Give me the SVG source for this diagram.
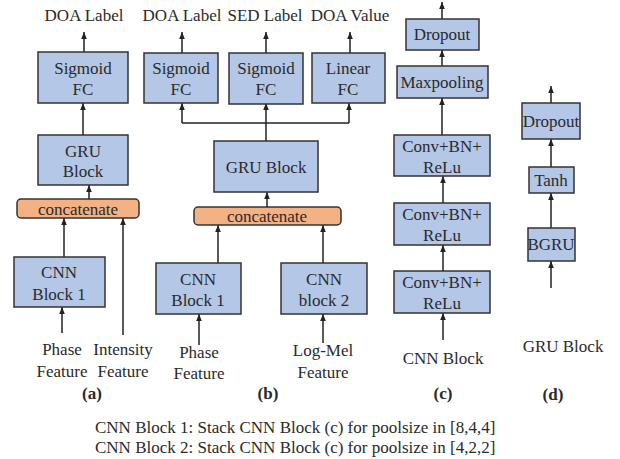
<svg xmlns="http://www.w3.org/2000/svg" width="620" height="459" viewBox="0 0 620 459">
<defs>
<marker id="ah" viewBox="0 0 10 10" refX="10" refY="5" markerWidth="7" markerHeight="7" orient="auto" markerUnits="userSpaceOnUse"><path d="M0,1 L10,5 L0,9 z" fill="#222"/></marker>
<style>
text{font-family:"Liberation Serif","Times New Roman",serif;font-size:17px;fill:#2a2a2a;text-anchor:middle}
.b{fill:#b4c7e7;stroke:#333;stroke-width:1.5}
.c{fill:#f4b183;stroke:#333;stroke-width:1.5}
.bold{font-weight:bold}
.l{text-anchor:start}
.e line,.e path{stroke:#222;stroke-width:1.5;fill:none}
.a{marker-end:url(#ah)}
</style>
</defs>
<rect width="620" height="459" fill="#fff"/>

<g class="e" id="connectors">
<!-- (a) -->
<line class="a" x1="84" y1="52" x2="84" y2="32"/>
<line class="a" x1="83" y1="135" x2="83" y2="103"/>
<line class="a" x1="89" y1="199" x2="89" y2="185"/>
<line class="a" x1="64" y1="257" x2="64" y2="218"/>
<line class="a" x1="123" y1="335" x2="123" y2="218"/>
<line class="a" x1="62" y1="333" x2="62" y2="307"/>
<!-- (b) -->
<line class="a" x1="182" y1="53" x2="182" y2="32"/>
<line class="a" x1="266" y1="53" x2="266" y2="32"/>
<line class="a" x1="350" y1="53" x2="350" y2="32"/>
<line class="a" x1="266" y1="141" x2="266" y2="103"/>
<line x1="182" y1="123" x2="349" y2="123"/>
<line class="a" x1="182" y1="123" x2="182" y2="103"/>
<line class="a" x1="349" y1="123" x2="349" y2="103"/>
<line class="a" x1="267" y1="207" x2="267" y2="192"/>
<line class="a" x1="218" y1="263" x2="218" y2="225"/>
<line class="a" x1="323" y1="263" x2="323" y2="225"/>
<line class="a" x1="199" y1="345" x2="199" y2="314"/>
<line class="a" x1="323" y1="343" x2="323" y2="314"/>
<!-- (c) -->
<line class="a" x1="442" y1="19" x2="442" y2="2"/>
<line class="a" x1="442" y1="66" x2="442" y2="50"/>
<line class="a" x1="442" y1="135" x2="442" y2="98"/>
<line class="a" x1="443" y1="203" x2="443" y2="176"/>
<line class="a" x1="443" y1="271" x2="443" y2="245"/>
<line class="a" x1="443" y1="340" x2="443" y2="313"/>
<!-- (d) -->
<line class="a" x1="551" y1="103" x2="551" y2="86"/>
<line class="a" x1="551" y1="167" x2="551" y2="139"/>
<line class="a" x1="551" y1="228" x2="551" y2="193"/>
<line class="a" x1="551" y1="288" x2="551" y2="261"/>
</g>

<!-- (a) -->
<g id="a_sigmoid"><rect class="b" x="38" y="52" width="90" height="51"/><text x="83" y="74">Sigmoid</text><text x="83" y="95">FC</text></g>
<g id="a_gru"><rect class="b" x="38" y="135" width="90" height="50"/><text x="83" y="157">GRU</text><text x="83" y="177">Block</text></g>
<g id="a_concat"><rect class="c" x="17" y="199" width="122" height="19" rx="4"/><text x="78" y="215">concatenate</text></g>
<g id="a_cnn"><rect class="b" x="14" y="257" width="91" height="50"/><text x="59" y="278">CNN</text><text x="59" y="300">Block 1</text></g>
<g id="a_labels">
<text x="84" y="21">DOA Label</text>
<text x="62" y="355">Phase</text><text x="62" y="377">Feature</text>
<text x="123" y="355">Intensity</text><text x="123" y="377">Feature</text>
<text class="bold" x="92" y="399">(a)</text>
</g>

<!-- (b) -->
<g id="b_sig1"><rect class="b" x="144" y="53" width="74" height="50"/><text x="181" y="74">Sigmoid</text><text x="181" y="95">FC</text></g>
<g id="b_sig2"><rect class="b" x="229" y="53" width="74" height="51"/><text x="266" y="74">Sigmoid</text><text x="266" y="95">FC</text></g>
<g id="b_lin"><rect class="b" x="312" y="53" width="73" height="50"/><text x="348" y="74">Linear</text><text x="348" y="95">FC</text></g>
<g id="b_gru"><rect class="b" x="214" y="141" width="104" height="51"/><text x="266" y="173">GRU Block</text></g>
<g id="b_concat"><rect class="c" x="194" y="207" width="147" height="18" rx="4"/><text x="267" y="222">concatenate</text></g>
<g id="b_cnn1"><rect class="b" x="156" y="263" width="85" height="51"/><text x="198" y="285">CNN</text><text x="198" y="306">Block 1</text></g>
<g id="b_cnn2"><rect class="b" x="281" y="263" width="86" height="51"/><text x="324" y="285">CNN</text><text x="324" y="306">block 2</text></g>
<g id="b_labels">
<text x="182" y="21">DOA Label</text>
<text x="265" y="21">SED Label</text>
<text x="350" y="21">DOA Value</text>
<text x="199" y="358">Phase</text><text x="199" y="379">Feature</text>
<text x="323" y="356">Log-Mel</text><text x="323" y="378">Feature</text>
<text class="bold" x="268" y="399">(b)</text>
</g>

<!-- (c) -->
<g id="c_dropout"><rect class="b" x="406" y="19" width="73" height="31"/><text x="442" y="40">Dropout</text></g>
<g id="c_maxpool"><rect class="b" x="397" y="66" width="91" height="32"/><text x="442" y="88">Maxpooling</text></g>
<g id="c_conv1"><rect class="b" x="394" y="135" width="96" height="41"/><text x="442" y="152">Conv+BN+</text><text x="442" y="173">ReLu</text></g>
<g id="c_conv2"><rect class="b" x="394" y="203" width="96" height="42"/><text x="442" y="220">Conv+BN+</text><text x="442" y="241">ReLu</text></g>
<g id="c_conv3"><rect class="b" x="394" y="271" width="96" height="42"/><text x="442" y="288">Conv+BN+</text><text x="442" y="309">ReLu</text></g>
<g id="c_labels">
<text x="443" y="364">CNN Block</text>
<text class="bold" x="443" y="399">(c)</text>
</g>

<!-- (d) -->
<g id="d_dropout"><rect class="b" x="522" y="103" width="58" height="36"/><text x="551" y="127">Dropout</text></g>
<g id="d_tanh"><rect class="b" x="529" y="167" width="45" height="26"/><text x="551" y="186">Tanh</text></g>
<g id="d_bgru"><rect class="b" x="528" y="228" width="47" height="33"/><text x="551" y="250">BGRU</text></g>
<g id="d_labels">
<text x="563" y="352">GRU Block</text>
<text class="bold" x="553" y="400">(d)</text>
</g>

<g id="caption">
<text class="l" x="95" y="433">CNN Block 1: Stack CNN Block (c) for poolsize in [8,4,4]</text>
<text class="l" x="95" y="453">CNN Block 2: Stack CNN Block (c) for poolsize in [4,2,2]</text>
</g>
</svg>
